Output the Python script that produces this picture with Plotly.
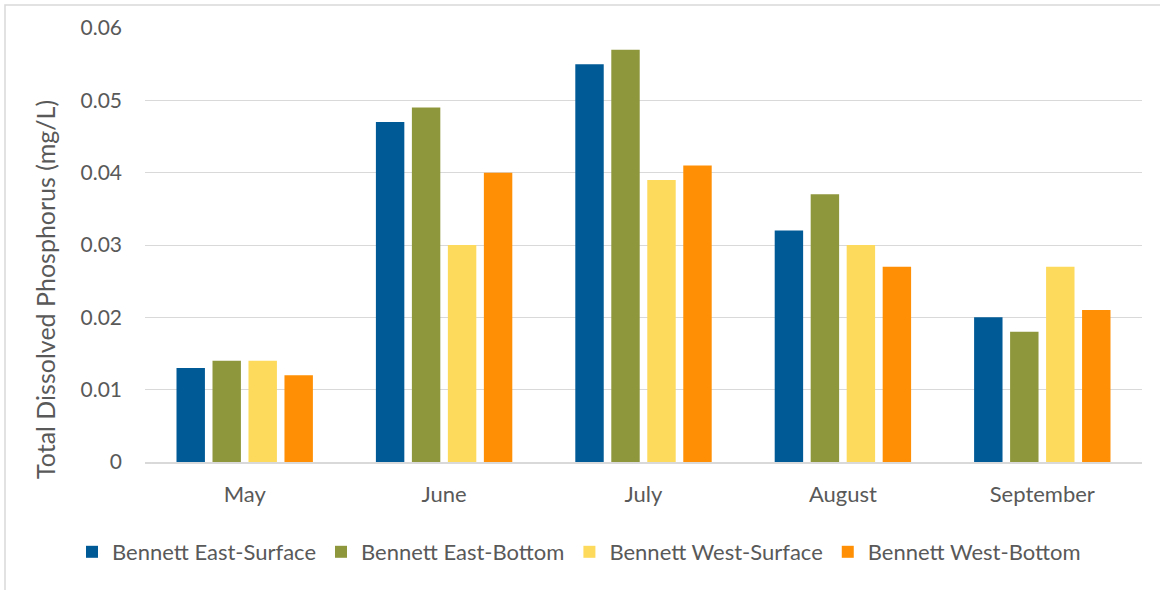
import plotly.graph_objects as go

months = ["May", "June", "July", "August", "September"]
east_surface = [0.013, 0.047, 0.055, 0.032, 0.020]
east_bottom = [0.014, 0.049, 0.057, 0.037, 0.018]
west_surface = [0.014, 0.030, 0.039, 0.030, 0.027]
west_bottom = [0.012, 0.040, 0.041, 0.027, 0.021]

series = [
    ("Bennett East-Surface", east_surface, "#005A96"),
    ("Bennett East-Bottom", east_bottom, "#8F973D"),
    ("Bennett West-Surface", west_surface, "#FDDA5B"),
    ("Bennett West-Bottom", west_bottom, "#FF9005"),
]

font_family = "Lato, 'Open Sans', sans-serif"
text_color = "#595959"

fig = go.Figure()
for name, vals, color in series:
    fig.add_trace(go.Bar(
        x=months, y=vals, name=name,
        marker=dict(color=color, line=dict(width=0)),
    ))

fig.update_layout(
    width=1160, height=590,
    margin=dict(l=145, r=18, t=28, b=128),
    paper_bgcolor="white", plot_bgcolor="white",
    barmode="group", bargap=0.278, bargroupgap=0.21,
    font=dict(family=font_family, size=21, color=text_color),
    showlegend=True,
    legend=dict(
        orientation="h",
        # anchored just left of the plot area and below it so the row
        # may use the full width without wrapping
        x=-73 / 997, xanchor="left", xref="paper",
        y=-90 / 434, yanchor="middle", yref="paper",
        font=dict(size=22, color=text_color),
        itemwidth=30, traceorder="normal",
        bgcolor="rgba(0,0,0,0)",
    ),
    xaxis=dict(
        showgrid=False, showline=True, linecolor="#D9D9D9", linewidth=1.5,
        ticks="", tickfont=dict(size=22, color=text_color),
        ticklabelstandoff=12,
    ),
    yaxis=dict(
        range=[0, 0.06], dtick=0.01, tickformat="~g",
        showgrid=True, gridcolor="#D9D9D9", gridwidth=1,
        zeroline=False, showline=False, ticks="",
        tickfont=dict(size=21, color=text_color),
        ticklabelstandoff=22,
    ),
    annotations=[dict(
        text="Total Dissolved Phosphorus (mg/L)", textangle=-90,
        xref="paper", yref="paper", x=-100 / 997, y=172 / 434,
        xanchor="center", yanchor="middle", showarrow=False,
        font=dict(size=25, color=text_color),
    )],
    shapes=[dict(
        type="rect", xref="paper", yref="paper",
        x0=-140 / 997, x1=1.5, y0=-1.0, y1=1 + 23 / 434,
        line=dict(color="#D9D9D9", width=1.5), fillcolor="rgba(0,0,0,0)",
        layer="below",
    )],
)

fig.write_html("out.html")
